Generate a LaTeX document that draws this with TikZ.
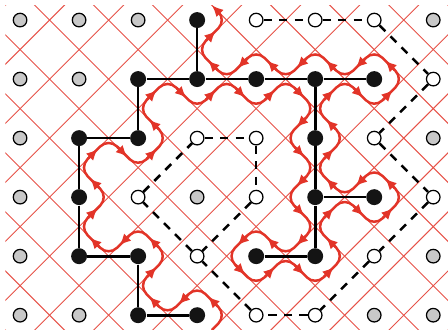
\documentclass[tikz,border=0pt]{standalone}
\usetikzlibrary{arrows.meta,calc}

\definecolor{peano}{RGB}{226,52,40}
\definecolor{sitegray}{RGB}{200,200,200}

% turning points of the curve (edge midpoints), in order
\def\peanopath{3.5/5, 3/4.5, 2.5/5, 2/4.5, 2.5/4, 2/3.5, 1.5/4, 1/3.5, 1.5/3, 1/2.5,
  1.5/2, 2/2.5, 2.5/2, 2/1.5, 2.5/1, 3/1.5, 3.5/1, 4/1.5, 4.5/1, 5/1.5, 4.5/2, 5/2.5,
  4.5/3, 5/3.5, 4.5/4, 4/3.5, 3.5/4, 4/4.5, 4.5/4, 5/4.5, 5.5/4, 5/3.5, 5.5/3, 6/3.5,
  6.5/3, 6/2.5, 5.5/3, 5/2.5, 5.5/2, 5/1.5, 5.5/1, 6/1.5, 6.5/1, 6/0.5, 5.5/1, 5/0.5,
  4.5/1, 4/0.5, 3.5/1, 3/0.5, 3.5/0}

\begin{document}
\begin{tikzpicture}[x=1cm, y=-1cm,
    black site/.style={circle, fill=black!92, inner sep=0pt, minimum size=0.27cm},
    white site/.style={circle, draw, fill=white, line width=0.6pt, inner sep=0pt, minimum size=0.23cm},
    gray site/.style={white site, fill=sitegray},
    treeline/.style={line width=1.3pt},
    dualline/.style={line width=1.2pt, dash pattern=on 4pt off 3.5pt},
    medial/.style={peano!85, line width=0.45pt},
    peanoline/.style={peano, line width=1.2pt, rounded corners=0.2cm},
    flowtip/.style={-{Latex[length=5.5pt,width=5pt]}}]

    \useasboundingbox (-0.34,-0.34) rectangle (7.25,5.24);

    % medial lattice
    \begin{scope}
        \clip (-0.25,-0.25) rectangle (7.25,5.25);
        \foreach \c in {-0.5,0.5,...,12.5}
            \draw[medial] (\c+1,-1) -- (\c-7,7);
        \foreach \c in {-5.5,-4.5,...,7.5}
            \draw[medial] (\c-1,-1) -- (\c+7,7);
    \end{scope}

    % sites
    \foreach \i/\j in {3/0, 2/1, 3/1, 4/1, 5/1, 6/1, 1/2, 2/2, 5/2, 1/3, 5/3, 6/3,
                       1/4, 2/4, 4/4, 5/4, 2/5, 3/5}
        \node[black site] (s\i\j) at (\i,\j) {};
    \foreach \i/\j in {4/0, 5/0, 6/0, 7/1, 3/2, 4/2, 6/2, 2/3, 4/3, 7/3, 3/4, 6/4, 4/5, 5/5}
        \node[white site] (s\i\j) at (\i,\j) {};
    \foreach \i/\j in {0/0, 1/0, 2/0, 7/0, 0/1, 1/1, 0/2, 7/2, 0/3, 3/3, 0/4, 7/4,
                       0/5, 1/5, 6/5, 7/5}
        \node[gray site] (s\i\j) at (\i,\j) {};

    % tree and dual tree
    \foreach \a/\b in {30/31, 21/31, 31/41, 41/51, 51/61, 21/22, 12/22, 12/13, 13/14,
                       14/24, 24/25, 25/35, 51/52, 52/53, 53/54, 53/63, 44/54}
        \draw[treeline] (s\a) -- (s\b);
    \foreach \a/\b in {40/50, 50/60, 60/71, 71/62, 62/73, 73/64, 64/55, 55/45, 45/34,
                       34/23, 23/32, 32/42, 42/43, 43/34}
        \draw[dualline] (s\a) -- (s\b);

    % the curve
    \draw[peanoline, flowtip] (3.25,5.25)
        \foreach \x/\y in \peanopath { -- (\x,\y) } -- (3.25,-0.25);
    \foreach \x/\y [count=\n, remember=\x as \lx (initially 3.25),
                    remember=\y as \ly (initially 5.25)] in \peanopath {
        \ifnum\n>1
            \draw[peanoline, flowtip] ($(\lx,\ly)!0.3!(\x,\y)$) -- ($(\lx,\ly)!0.63!(\x,\y)$);
        \fi
    }

\end{tikzpicture}
\end{document}
